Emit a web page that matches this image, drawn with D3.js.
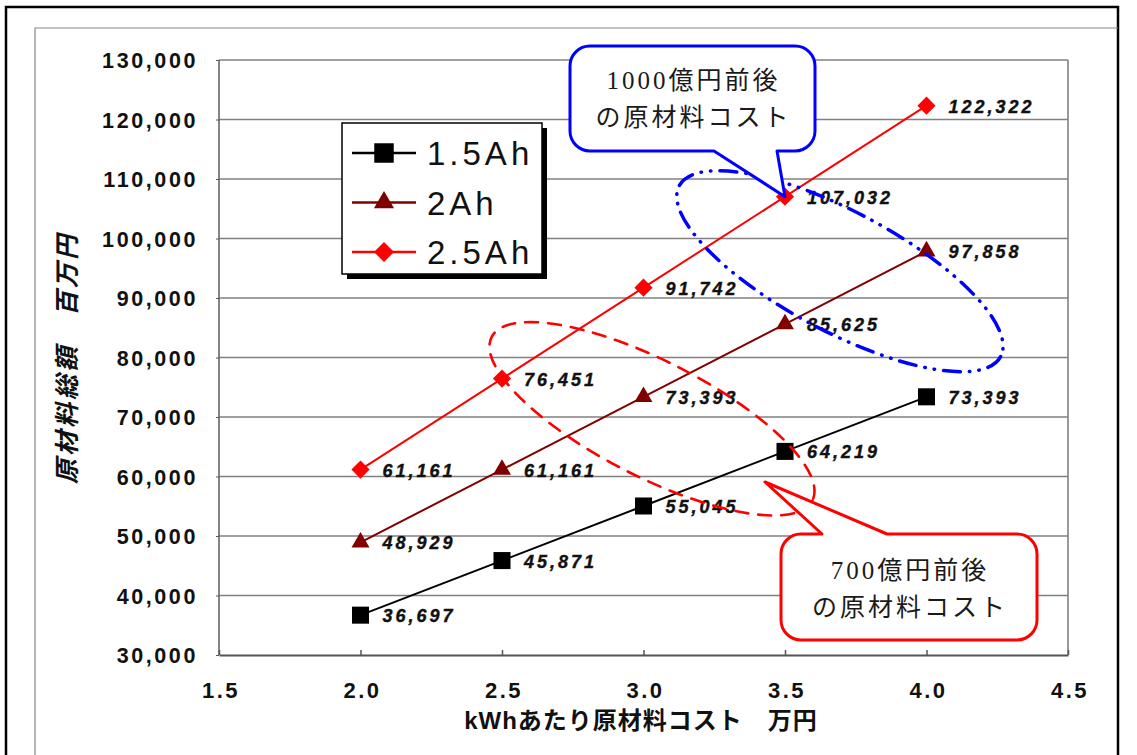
<!DOCTYPE html>
<meta charset="utf-8">
<style>
body { margin: 0; background: #fff; }
text { font-family: "Liberation Sans", Arial, sans-serif; }
</style>
<body>
<script src="https://cdn.jsdelivr.net/npm/d3@7"></script>
<script>
var width = 1137,
	height = 755;

// data
var costs = [2.0, 2.5, 3.0, 3.5, 4.0];
var ah15 = [36697, 45871, 55045, 64219, 73393];
var ah20 = [48929, 61161, 73393, 85625, 97858];
var ah25 = [61161, 76451, 91742, 107032, 122322];
var seriesNames = ["1.5Ah", "2Ah", "2.5Ah"];
var seriesColors = ["#000000", "#800000", "#ff0000"];
var yTicks = d3.range(30000, 130001, 10000);
var xTicks = [1.5, 2.0, 2.5, 3.0, 3.5, 4.0, 4.5];
var xTitle = "kWhあたり原材料コスト　万円";
var yTitle = "原材料総額　百万円";
var note1000 = ["1000億円前後", "の原材料コスト"];
var note700 = ["700億円前後", "の原材料コスト"];

var series = [ah15, ah20, ah25].map(function(v, k) {
	return {name: seriesNames[k], color: seriesColors[k],
		values: v.map(function(d, j) { return {x: costs[j], y: d}; })};
});

var svg = d3.select("body").append("svg")
			.attr("width", width)
			.attr("height", height);

var x = d3.scaleLinear().domain([1.5, 4.5]).range([219, 1068]),
	y = d3.scaleLinear().domain([30000, 130000]).range([655, 60]);

// frames
svg.append("path")
	.attr("d", "M6,760V7H1118V760")
	.style("fill", "none").style("stroke", "#000").style("stroke-width", 2.5);
svg.append("path")
	.attr("d", "M35,760V28H1118")
	.style("fill", "none").style("stroke", "#888").style("stroke-width", 1.2);

// grid
var grid = svg.append("g");
grid.selectAll("line")
	.data(yTicks.slice(1))
	.enter().append("line")
	.attr("x1", x(1.5)).attr("x2", x(4.5))
	.attr("y1", function(d) { return y(d); })
	.attr("y2", function(d) { return y(d); })
	.style("stroke", "#808080").style("stroke-width", 1.6);
grid.append("line")
	.attr("x1", x(1.5)).attr("x2", x(1.5)).attr("y1", y(130000)).attr("y2", y(30000))
	.style("stroke", "#666").style("stroke-width", 1.6);
grid.append("line")
	.attr("x1", x(4.5)).attr("x2", x(4.5)).attr("y1", y(130000)).attr("y2", y(30000))
	.style("stroke", "#808080").style("stroke-width", 1.6);

// axes
var xAxis = svg.append("g")
	.attr("transform", "translate(0," + y(30000) + ")")
	.call(d3.axisBottom(x).tickValues(xTicks).tickSizeInner(-5).tickSizeOuter(0).tickFormat(d3.format(".1f")));
xAxis.select(".domain").style("stroke", "#555").style("stroke-width", 2);
xAxis.selectAll(".tick line").style("stroke", "#555").style("stroke-width", 1.5);
xAxis.selectAll(".tick text")
	.attr("y", 43).attr("dy", 0).attr("dx", 1.5)
	.style("font-size", "22px").style("font-weight", "bold")
	.style("letter-spacing", "2.5px").style("fill", "#111");

var yAxis = svg.append("g")
	.attr("transform", "translate(" + x(1.5) + ",0)")
	.call(d3.axisLeft(y).tickValues(yTicks).tickSizeInner(3).tickSizeOuter(0).tickFormat(d3.format(",")));
yAxis.select(".domain").remove();
yAxis.selectAll(".tick line").style("stroke", "#555");
yAxis.selectAll(".tick text")
	.attr("x", -21).attr("dy", "0.36em")
	.style("font-size", "21.5px").style("font-weight", "bold")
	.style("letter-spacing", "2.6px").style("fill", "#111");

svg.append("text")
	.attr("x", 641).attr("y", 729)
	.attr("text-anchor", "middle")
	.style("font-size", "24px").style("font-weight", "bold")
	.style("letter-spacing", "1px").style("fill", "#111")
	.style("font-family", "'Liberation Sans', 'Noto Sans CJK JP', sans-serif")
	.text(xTitle);

svg.append("text")
	.attr("transform", "translate(76,358)rotate(-90)")
	.attr("text-anchor", "middle")
	.style("font-size", "25px").style("font-style", "italic").style("font-weight", "bold")
	.style("letter-spacing", "3px").style("fill", "#111")
	.style("font-family", "'Noto Sans CJK JP', sans-serif")
	.text(yTitle);

// series
var line = d3.line().x(function(d) { return x(d.x); }).y(function(d) { return y(d.y); });
var shapes = [d3.symbolSquare, d3.symbolTriangle, d3.symbolSquare];
var sizes = [290, 140, 165];
var rots = [0, 0, 45];

var s = svg.append("g").selectAll("g")
	.data(series)
	.enter().append("g");
s.append("path")
	.attr("d", function(d) { return line(d.values); })
	.style("fill", "none")
	.style("stroke", function(d) { return d.color; })
	.style("stroke-width", 2);
s.each(function(sd, k) {
	d3.select(this).selectAll(".pt")
		.data(sd.values)
		.enter().append("path")
		.attr("d", d3.symbol().type(shapes[k]).size(sizes[k]))
		.attr("transform", function(d) {
			return "translate(" + x(d.x) + "," + y(d.y) + ")rotate(" + rots[k] + ")";
		})
		.style("fill", sd.color);
	d3.select(this).selectAll(".lb")
		.data(sd.values)
		.enter().append("text")
		.attr("x", function(d) { return x(d.x) + 22; })
		.attr("y", function(d) { return y(d.y) + 7; })
		.style("font-size", "18px").style("font-weight", "bold").style("font-style", "italic")
		.style("letter-spacing", "3px").style("fill", "#111")
		.style("stroke", "#111").style("stroke-width", 0.4)
		.text(function(d) { return d3.format(",")(d.y); });
});

// dashed rings
function ring(cx, cy, rx, ry, rot, color, dash, w) {
	svg.append("ellipse")
		.attr("cx", 0).attr("cy", 0).attr("rx", rx).attr("ry", ry)
		.attr("transform", "translate(" + x(cx) + "," + y(cy) + ")rotate(" + rot + ")")
		.style("fill", "none").style("stroke", color)
		.style("stroke-width", w).style("stroke-dasharray", dash)
		.style("stroke-linecap", "round");
}
ring(3.03, 69700, 180, 58, 27, "#ff0000", "13 10", 2.6);
ring(3.694, 94500, 182, 60, 28, "#0000ff", "17 9 0.5 9 0.5 9", 3.5);

// callouts
function callout(bx, by, bw, bh, p1, p2, tip, color, lines, ty) {
	var r = 20, top = tip[1] < by;
	var p = d3.path();
	p.moveTo(bx + r, by);
	if (top) { p.lineTo(p1, by); p.lineTo(tip[0], tip[1]); p.lineTo(p2, by); }
	p.lineTo(bx + bw - r, by);
	p.arcTo(bx + bw, by, bx + bw, by + r, r);
	p.lineTo(bx + bw, by + bh - r);
	p.arcTo(bx + bw, by + bh, bx + bw - r, by + bh, r);
	if (!top) { p.lineTo(p2, by + bh); p.lineTo(tip[0], tip[1]); p.lineTo(p1, by + bh); }
	p.lineTo(bx + r, by + bh);
	p.arcTo(bx, by + bh, bx, by + bh - r, r);
	p.lineTo(bx, by + r);
	p.arcTo(bx, by, bx + r, by, r);
	p.closePath();
	svg.append("path").attr("d", p.toString())
		.style("fill", "#fff").style("stroke", color).style("stroke-width", 3)
		.style("stroke-linejoin", "round");
	svg.selectAll(null)
		.data(lines)
		.enter().append("text")
		.attr("x", bx + bw / 2 + 1)
		.attr("y", function(d, i) { return ty + i * 37; })
		.attr("text-anchor", "middle")
		.style("font-size", "25px").style("letter-spacing", "3px").style("fill", "#1a1a1a")
		.style("font-family", "'Liberation Serif', 'Noto Sans CJK JP', serif")
		.text(function(d) { return d; });
}
callout(570, 46, 245, 105, 714, 777, [x(3.5), y(107032)], "#0000ff", note1000, 89);
callout(781, 534, 256, 106, 822, 887, [765, 482], "#ff0000", note700, 579);

// legend
var lg = svg.append("g").attr("transform", "translate(342,123)");
lg.append("rect").attr("x", 5).attr("y", 5).attr("width", 200).attr("height", 151).style("fill", "#000");
lg.append("rect").attr("width", 200).attr("height", 151)
	.style("fill", "#fff").style("stroke", "#000").style("stroke-width", 1.5);
var lsizes = [380, 175, 200];
var le = lg.selectAll(".le")
	.data(series)
	.enter().append("g")
	.attr("transform", function(d, i) { return "translate(0," + (30 + i * 49.5) + ")"; });
le.append("line")
	.attr("x1", 10).attr("x2", 74)
	.style("stroke", function(d) { return d.color; }).style("stroke-width", 2.5);
le.append("path")
	.attr("d", function(d, i) { return d3.symbol().type(shapes[i]).size(lsizes[i])(); })
	.attr("transform", function(d, i) { return "translate(42,0)rotate(" + rots[i] + ")"; })
	.style("fill", function(d) { return d.color; });
le.append("text")
	.attr("x", 85).attr("y", 12)
	.style("font-size", "33px").style("letter-spacing", "4px").style("fill", "#111")
	.text(function(d) { return d.name; });
</script>
</body>
